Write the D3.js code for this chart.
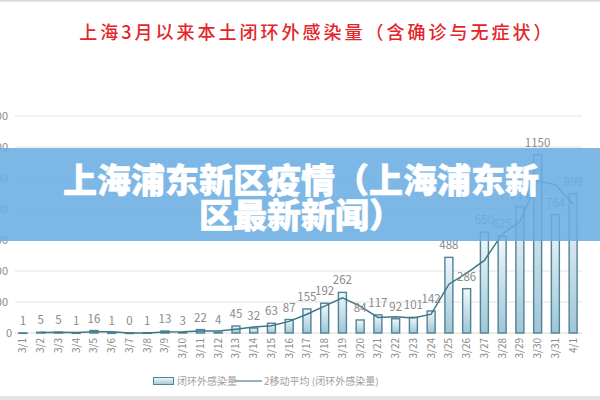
<!DOCTYPE html>
<html><head><meta charset="utf-8">
<script src="https://cdn.jsdelivr.net/npm/d3@7"></script>
<style>
html,body{margin:0;padding:0;background:#fff;}
svg{display:block;font-family:"Noto Sans CJK SC","Noto Sans",sans-serif;}
</style></head>
<body><svg id="c" width="600" height="400"></svg>
<script>
const dates = ["3/1","3/2","3/3","3/4","3/5","3/6","3/7","3/8","3/9","3/10","3/11","3/12","3/13","3/14","3/15","3/16","3/17","3/18","3/19","3/20","3/21","3/22","3/23","3/24","3/25","3/26","3/27","3/28","3/29","3/30","3/31","4/1"];
const infections = [1,5,5,1,16,1,0,1,13,3,22,4,45,32,63,87,155,192,262,84,117,92,101,142,488,286,650,625,814,1150,764,899];
const yTicks = [0,200,400,600,800,1000,1200,1400];
const titleText = "上海3月以来本土闭环外感染量（含确诊与无症状）";
const bannerLines = ["上海浦东新区疫情（上海浦东新","区最新新闻）"];
const legendLabels = ["闭环外感染量","2移动平均 (闭环外感染量)"];

const svg = d3.select("#c");
const W = 600, H = 400;

// frame lines
svg.append("rect").attr("x",0).attr("y",0).attr("width",W).attr("height",1.5).attr("fill","#d8d8d8");
svg.append("rect").attr("x",0).attr("y",396).attr("width",W).attr("height",4).attr("fill","#e4e4e4");

// title
svg.append("text").attr("x",317).attr("y",39).attr("text-anchor","middle")
  .attr("font-size",18).attr("font-weight",500).attr("letter-spacing",3)
  .attr("fill","#e3262b").text(titleText);

const x = d3.scaleBand().domain(dates).range([14.1, 582]).paddingInner(0.55).paddingOuter(0.275);
const y = d3.scaleLinear().domain([0,1400]).range([333,116]);

const defs = svg.append("defs");
const grad = defs.append("linearGradient").attr("id","bg").attr("x1",0).attr("y1",0).attr("x2",0).attr("y2",1);
grad.append("stop").attr("offset","0%").attr("stop-color","#f2f8fb");
grad.append("stop").attr("offset","100%").attr("stop-color","#9ec6d8");

// gridlines
svg.append("g").selectAll("line").data(yTicks.slice(1)).join("line")
  .attr("x1",15).attr("x2",582).attr("y1",d=>y(d)).attr("y2",d=>y(d))
  .attr("stroke","#e2e2e2").attr("stroke-width",1);
svg.append("line").attr("x1",15).attr("x2",582).attr("y1",y(0)).attr("y2",y(0))
  .attr("stroke","#d9d9d9").attr("stroke-width",1);

// y labels (cropped at the left edge as in the reference)
svg.append("g").selectAll("text").data(yTicks).join("text")
  .attr("x",d=> d===0 ? 12 : 8).attr("y",d=>y(d)+4).attr("text-anchor","end")
  .attr("font-size",11).attr("fill","#8c8c8c").text(d=>d);

// bars
svg.append("g").selectAll("rect").data(infections).join("rect")
  .attr("x",(d,i)=>x(dates[i])).attr("width",x.bandwidth())
  .attr("y",d=>y(d)).attr("height",d=>Math.max(0.5,y(0)-y(d)))
  .attr("fill","url(#bg)").attr("stroke","#4f8396").attr("stroke-width",1.4);

// moving average
const ma = infections.map((v,i)=> i===0 ? null : (infections[i-1]+v)/2);
const line = d3.line().defined(d=>d!==null)
  .x((d,i)=>x(dates[i])+x.bandwidth()/2).y(d=>y(d));
svg.append("path").datum(ma).attr("d",line).attr("fill","none")
  .attr("stroke","#3d7788").attr("stroke-width",1.5);

// data labels
svg.append("g").selectAll("text").data(infections).join("text")
  .attr("x",(d,i)=>x(dates[i])+x.bandwidth()/2).attr("y",d=>y(d)-8)
  .attr("text-anchor","middle").attr("font-size",11.5).attr("fill","#8a8a8a").text(d=>d);

// x labels
svg.append("g").selectAll("text").data(dates).join("text")
  .attr("transform",d=>`translate(${x(d)+x.bandwidth()/2+3.5},338) rotate(-90)`)
  .attr("text-anchor","end").attr("font-size",10).attr("fill","#8a8a8a").text(d=>d);

// legend
const lg = svg.append("g");
lg.append("rect").attr("x",153.5).attr("y",377.5).attr("width",20).attr("height",7)
  .attr("fill","url(#bg)").attr("stroke","#4f8396").attr("stroke-width",1);
lg.append("text").attr("x",177).attr("y",385).attr("font-size",10).attr("fill","#a0a0a0").text(legendLabels[0]);
lg.append("line").attr("x1",235).attr("x2",262).attr("y1",381).attr("y2",381).attr("stroke","#6f9aa6").attr("stroke-width",1.5);
lg.append("text").attr("x",264).attr("y",385).attr("font-size",10).attr("fill","#a0a0a0").text(legendLabels[1]);

// banner overlay
svg.append("rect").attr("x",0).attr("y",148).attr("width",W).attr("height",93)
  .attr("fill","#6badE3").attr("opacity",0.88);
svg.append("g").selectAll("text").data(bannerLines).join("text")
  .attr("x",301).attr("y",(d,i)=>193+i*35).attr("text-anchor","middle")
  .attr("font-size",34).attr("font-weight",900).attr("fill","#fff")
  .attr("stroke","#fff").attr("stroke-width",0.6).text(d=>d);
</script></body></html>
